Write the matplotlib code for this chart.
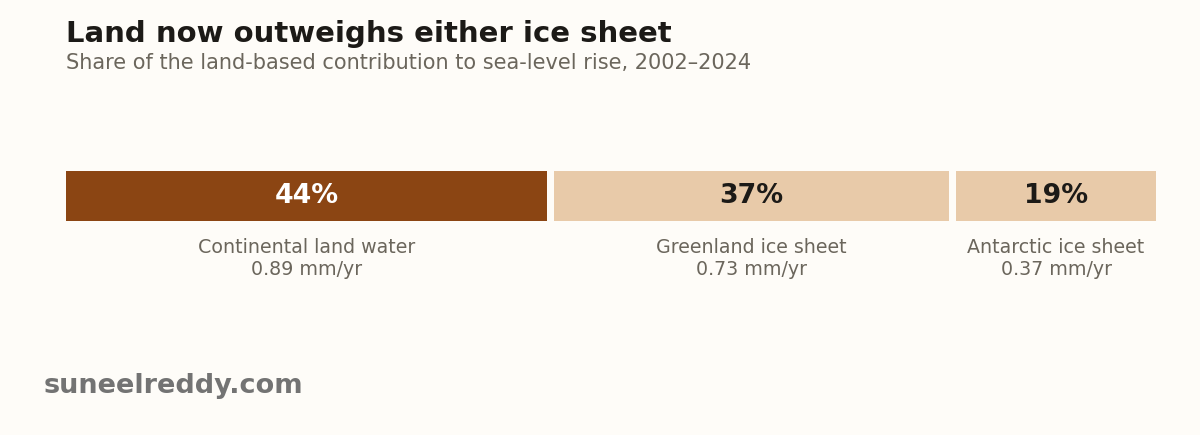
import matplotlib.pyplot as plt

# contributions to sea-level rise, 2002-2024 (mm/yr)
sources = ['Continental land water', 'Greenland ice sheet', 'Antarctic ice sheet']
rates = [0.89, 0.73, 0.37]
shares = [44, 37, 19]

bg = '#fefcf8'
bar_colors = ['#8b4513', '#e8caa9', '#e8caa9']
pct_colors = ['white', '#1c1a17', '#1c1a17']
grey = '#6b665c'

fig = plt.figure(figsize=(12, 4.352), dpi=100, facecolor=bg)

fig.text(66 / 1200, 1 - 34 / 435, 'Land now outweighs either ice sheet',
         fontsize=21, fontweight='bold', color='#1c1a17', va='center')
fig.text(66 / 1200, 1 - 63 / 435, 'Share of the land-based contribution to sea-level rise, 2002\u20132024',
         fontsize=15, color=grey, va='center')
fig.text(44 / 1200, 1 - 386 / 435, 'suneelreddy.com',
         fontsize=19.5, fontweight='bold', color='#737373', va='center')

ax = fig.add_axes([66 / 1200, 1 - 221 / 435, 1090 / 1200, 50 / 435])
ax.set_facecolor(bg)

gap = 0.0135
left = 0
for i in range(len(rates)):
    ax.barh(0, rates[i], left=left, height=1, color=bar_colors[i])
    mid = left + rates[i] / 2
    ax.text(mid, 0, f'{shares[i]}%', ha='center', va='center',
            fontsize=19.3, fontweight='bold', color=pct_colors[i])
    ax.text(mid, -1.25, f'{sources[i]}\n{rates[i]:.2f} mm/yr', ha='center', va='center',
            fontsize=13.7, color=grey, linespacing=1.2, clip_on=False)
    left += rates[i] + gap

ax.set_xlim(0, left - gap)
ax.set_ylim(-0.5, 0.5)
ax.axis('off')

fig.savefig('out.png', facecolor=bg)
